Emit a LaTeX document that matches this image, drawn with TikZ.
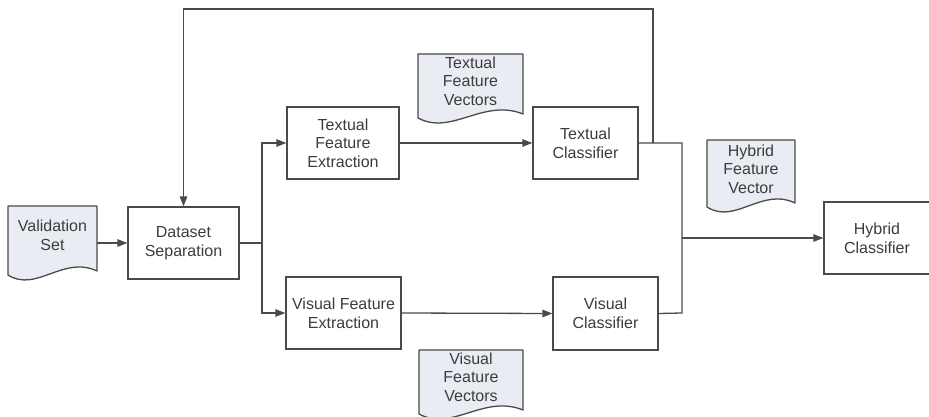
\documentclass[tikz,border=0pt]{standalone}
\usepackage{fontspec}
\setmainfont{Liberation Sans}
\usetikzlibrary{arrows.meta,calc}
\definecolor{ln}{HTML}{4A4A4A}
\definecolor{txt}{HTML}{3C3C3C}
\definecolor{docfill}{HTML}{E9EDF3}
\tikzset{
  lbl/.style={align=center, text=txt, font=\fontsize{16}{18.7}\selectfont, inner sep=0pt},
  box/.style={lbl, draw=ln, line width=1.3pt, fill=white},
  conn/.style={draw=ln, line width=1.3pt},
  arr/.style={conn, -{Triangle[length=10pt,width=7.5pt]}},
  docarea/.style={inner sep=0pt, draw=none}
}
% L T R B : document shape with a wavy bottom
\newcommand\docshape[4]{%
  \draw[draw=ln, line width=1.3pt, fill=docfill, line join=round]
    (#1,#2) -- (#3,#2) -- (#3,{#4-4})
    .. controls ({#1+0.62*(#3-#1)},{#4-20}) and ({#1+0.32*(#3-#1)},{#4+18}) .. (#1,#4) -- cycle;}
\begin{document}
\begin{tikzpicture}[x=1pt,y=-1pt]
\useasboundingbox (0,0) rectangle (929,417);

% documents
\docshape{8}{206}{97}{275}
\node[docarea, minimum width=89pt, minimum height=69pt] (vs) at (52.5,240.5) {};
\node[lbl] (vst) at (52.5,235) {Validation\\Set};

\docshape{418}{54}{523}{118}
\node[docarea, minimum width=105pt, minimum height=64pt] (tfv) at (470.5,86) {};
\node[lbl] (tfvt) at (470.5,81) {Textual\\Feature\\Vectors};

\docshape{419}{350}{523}{414}
\node[docarea, minimum width=104pt, minimum height=64pt] (vfv) at (471,382) {};
\node[lbl] (vfvt) at (471,377) {Visual\\Feature\\Vectors};

\docshape{707}{140}{795}{207}
\node[docarea, minimum width=88pt, minimum height=67pt] (hfv) at (751,173.5) {};
\node[lbl] (hfvt) at (751,169) {Hybrid\\Feature\\Vector};

% process boxes
\node[box, minimum width=111pt, minimum height=72pt] (ds)  at (183.5,243) {Dataset\\Separation};
\node[box, minimum width=112pt, minimum height=72pt] (tfe) at (343,143) {Textual\\Feature\\Extraction};
\node[box, minimum width=105pt, minimum height=72pt] (tc)  at (585.5,143) {Textual\\Classifier};
\node[box, minimum width=115pt, minimum height=72pt] (vfe) at (343.5,313) {Visual Feature\\Extraction};
\node[box, minimum width=105pt, minimum height=73pt] (vc)  at (605.5,313.5) {Visual\\Classifier};
\node[box, minimum width=106pt, minimum height=72pt] (hc)  at (877,238) {Hybrid\\Classifier};

% junction coordinates
\coordinate (sp) at (262,243);
\coordinate (fbj) at (653,143);
\coordinate (fbtop) at (653,9);
\coordinate (mj1) at (682,143);
\coordinate (mj2) at (682,313);
\coordinate (mj3) at (682,238);

% connectors
\draw[arr] (vs.east |- ds.west) -- (ds.west);
\draw[conn] (ds.east) -- (sp);
\draw[arr] (sp) |- (tfe.west);
\draw[arr] (sp) |- (vfe.west);
\draw[arr] (tfe.east) -- (tc.west);
\draw[arr] (vfe.east) -- (vc.west);
\draw[conn] (tc.east) -- (mj1) -- (mj2) -- (vc.east);
\draw[arr] (mj3) -- (hc.west);
\draw[arr] (fbj) -- (fbtop) -| (ds.north);
\end{tikzpicture}
\end{document}
